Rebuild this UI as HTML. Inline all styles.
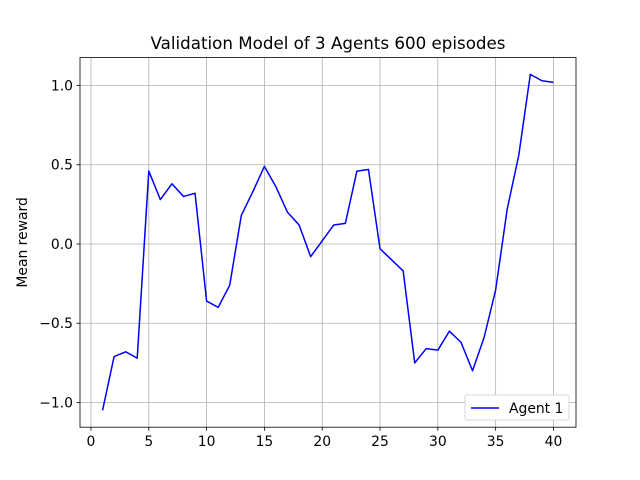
<!DOCTYPE html>
<html><head><meta charset="utf-8"><style>body{margin:0;background:#fff}svg{display:block;font-family:"DejaVu Sans","Liberation Sans",sans-serif}</style></head>
<body>
<svg id="chart" width="640" height="480"></svg>
<script>
const episodes=[1,2,3,4,5,6,7,8,9,10,11,12,13,14,15,16,17,18,19,20,21,22,23,24,25,26,27,28,29,30,31,32,33,34,35,36,37,38,39,40];
const agent1=[-1.05,-0.71,-0.68,-0.72,0.46,0.28,0.38,0.30,0.32,-0.36,-0.40,-0.26,0.18,0.33,0.49,0.36,0.20,0.12,-0.08,0.02,0.12,0.13,0.46,0.47,-0.03,-0.10,-0.17,-0.75,-0.66,-0.67,-0.55,-0.62,-0.80,-0.59,-0.29,0.22,0.56,1.07,1.03,1.02];
const xTicks=[0,5,10,15,20,25,30,35,40];
const yTicks=[-1.0,-0.5,0.0,0.5,1.0];
const yTickLabels=["\u22121.0","\u22120.5","0.0","0.5","1.0"];
const L=80,R=576,T=57.6,B=427.2;
const svg=document.getElementById('chart');
const NS='http://www.w3.org/2000/svg';
const xmin=Math.min(...episodes),xmax=Math.max(...episodes);
const ymin=Math.min(...agent1),ymax=Math.max(...agent1);
const x0=xmin-(xmax-xmin)*0.05,x1=xmax+(xmax-xmin)*0.05;
const y0=ymin-(ymax-ymin)*0.05,y1=ymax+(ymax-ymin)*0.05;
const sx=v=>L+(v-x0)/(x1-x0)*(R-L);
const sy=v=>B-(v-y0)/(y1-y0)*(B-T);
function mk(tag,attrs,parent){const e=document.createElementNS(NS,tag);for(const k in attrs)e.setAttribute(k,attrs[k]);(parent||svg).appendChild(e);return e;}
xTicks.forEach(t=>{const X=sx(t);
const g=mk('line',{x1:X,x2:X,y1:T,y2:B,stroke:'#b0b0b0','stroke-width':0.8});


mk('line',{x1:X,x2:X,y1:B,y2:B+3.5,stroke:'#000','stroke-width':0.8});
const tx=mk('text',{x:X,y:B+19,'font-size':13.9,'text-anchor':'middle'});tx.textContent=t;

});
yTicks.forEach((t,i)=>{const Y=sy(t);
const g=mk('line',{x1:L,x2:R,y1:Y,y2:Y,stroke:'#b0b0b0','stroke-width':0.8});


mk('line',{x1:L-3.5,x2:L,y1:Y,y2:Y,stroke:'#000','stroke-width':0.8});
const tx=mk('text',{x:L-7,y:Y+5,'font-size':13.9,'text-anchor':'end'});tx.textContent=yTickLabels[i];

});
const pl=mk('polyline',{points:episodes.map((e,i)=>sx(e)+','+sy(agent1[i])).join(' '),fill:'none',stroke:'#0000ff','stroke-width':1.5,'stroke-linejoin':'round'});


const fr=mk('rect',{x:L,y:T,width:R-L,height:B-T,fill:'none',stroke:'#000','stroke-width':0.8});


const ti=mk('text',{x:(L+R)/2,y:49,'font-size':16.7,'text-anchor':'middle'});ti.textContent='Validation Model of 3 Agents 600 episodes';


const yl=mk('text',{x:27,y:(T+B)/2,'font-size':13.9,'text-anchor':'middle',transform:'rotate(-90 27 '+((T+B)/2)+')'});yl.textContent='Mean reward';


const lg=mk('g',{});


mk('rect',{x:465,y:395,width:104,height:25,rx:2,fill:'#fff',stroke:'#ccc','stroke-width':0.8},lg);
mk('line',{x1:471,x2:499,y1:408,y2:408,stroke:'#0000ff','stroke-width':1.5},lg);
const lt=mk('text',{x:509,y:413,'font-size':13.9},lg);lt.textContent='Agent 1';


</script>
</body></html>
